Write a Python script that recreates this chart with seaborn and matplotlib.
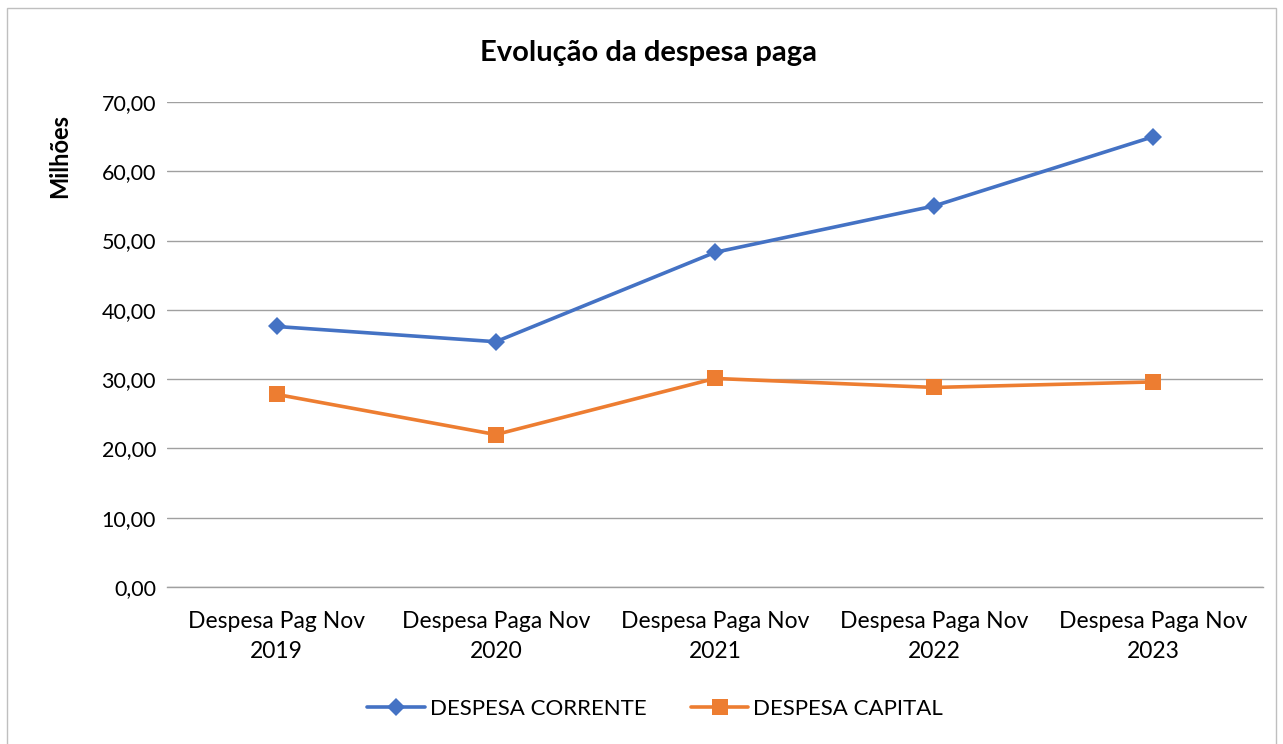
import matplotlib
matplotlib.use("Agg")
import matplotlib.pyplot as plt
import seaborn as sns
import pandas as pd
from matplotlib.patches import Rectangle
from matplotlib.ticker import FuncFormatter, MultipleLocator

categories = ["Despesa Pag Nov\n2019", "Despesa Paga Nov\n2020", "Despesa Paga Nov\n2021",
              "Despesa Paga Nov\n2022", "Despesa Paga Nov\n2023"]
despesa_corrente = [37.6, 35.4, 48.3, 55.0, 65.0]
despesa_capital = [27.8, 22.0, 30.1, 28.8, 29.6]
series_names = ["DESPESA CORRENTE", "DESPESA CAPITAL"]
colors = ["#4472C4", "#ED7D31"]

df = pd.DataFrame({
    "cat": categories * 2,
    "valor": despesa_corrente + despesa_capital,
    "serie": [series_names[0]] * 5 + [series_names[1]] * 5,
})

sns.set_theme(style="white")
plt.rcParams["font.family"] = ["Lato", "DejaVu Sans"]
plt.rcParams["text.color"] = "#000000"

W, H = 1283, 744
fig = plt.figure(figsize=(W / 100, H / 100), dpi=100)
ax = fig.add_axes([167 / W, 1 - 587 / H, (1263 - 167) / W, (587 - 102) / H])

sns.lineplot(data=df, x="cat", y="valor", hue="serie", style="serie",
             palette=colors, markers={"DESPESA CORRENTE": "D", "DESPESA CAPITAL": "s"},
             dashes=False, linewidth=2.6, markersize=10, markeredgewidth=0,
             sort=False, ax=ax)
for line in ax.lines:
    if line.get_marker() == "D":
        line.set_markersize(9)
    elif line.get_marker() == "s":
        line.set_markersize(12)

ax.set_xlim(-0.5, 4.5)
ax.set_ylim(0, 70)
ax.yaxis.set_major_locator(MultipleLocator(10))
ax.yaxis.set_major_formatter(FuncFormatter(lambda v, p: f"{v:.2f}".replace(".", ",")))
ax.grid(axis="y", color="#A0A0A0", linewidth=1)
ax.set_axisbelow(True)
for s in ["top", "right", "left"]:
    ax.spines[s].set_visible(False)
ax.spines["bottom"].set_color("#A0A0A0")
ax.spines["bottom"].set_linewidth(1)
ax.tick_params(axis="both", length=0, colors="#000000")
ax.tick_params(axis="y", pad=8, labelsize=15.5)
ax.tick_params(axis="x", pad=17, labelsize=16.5)
for t in ax.get_xticklabels():
    t.set_linespacing(1.55)
ax.set_xlabel("")
ax.set_ylabel("")

fig.text(60 / W, 1 - 156 / H, "Milhões", rotation=90, ha="center", va="center",
         fontsize=17, fontweight="bold", color="#000000")
fig.text(649 / W, 1 - 53 / H, "Evolução da despesa paga", ha="center", va="center",
         fontsize=21, fontweight="bold", color="#000000")

handles, labels = ax.get_legend_handles_labels()
ax.get_legend().remove()
leg = fig.legend(handles, labels, loc="center", bbox_to_anchor=(655 / W, 1 - 709 / H),
                 ncol=2, frameon=False, fontsize=16, handlelength=2.6, columnspacing=2.0,
                 handletextpad=0.2)
for t in leg.get_texts():
    t.set_color("#000000")

fig.patches.append(Rectangle((7 / W, -0.05), (1276 - 7) / W, 1 - 8 / H + 0.05,
                             transform=fig.transFigure, fill=False,
                             edgecolor="#BFBFBF", linewidth=1))

fig.savefig("out.png", dpi=100)
